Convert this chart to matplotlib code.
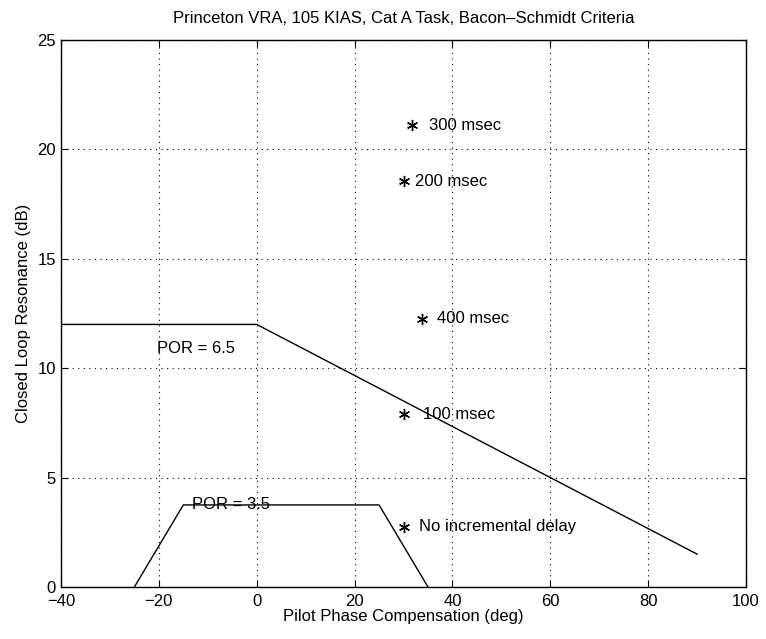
import numpy as np
import matplotlib
matplotlib.use("Agg")
import matplotlib.pyplot as plt

plt.rcParams['font.family'] = ['Liberation Sans', 'DejaVu Sans']

# =========================================
# DONNEES
# =========================================

# frontiere POR = 6.5
upper_x = [-40, 0, 90]
upper_y = [12, 12, 1.5]

# frontiere POR = 3.5
lower_x = [-25, -15, 25, 35]
lower_y = [0, 3.75, 3.75, 0]

# points mesures
pt_x = [31.7, 30.1, 33.7, 30.1, 30.1]
pt_y = [21.1, 18.55, 12.25, 7.9, 2.75]
pt_labels = ["300 msec", "200 msec", "400 msec", "100 msec", "No incremental delay"]
label_x = [35.2, 32.4, 36.9, 33.9, 33.1]

FS = 12

# =========================================
# PLOT
# =========================================

fig = plt.figure(figsize=(7.66, 6.39), dpi=100)
ax = fig.add_axes([0.0796, 0.0814, 0.8944, 0.856])

ax.plot(upper_x, upper_y, color="black", lw=1.0)
ax.plot(lower_x, lower_y, color="black", lw=1.0)

ax.plot(pt_x, pt_y, linestyle="none", marker=(6, 2, 0), markersize=8,
        markeredgewidth=1.0, color="black")

for xt, yt, lab in zip(label_x, pt_y, pt_labels):
    ax.text(xt, yt, lab, fontsize=FS, va="center", ha="left")

ax.text(-20.3, 10.9, "POR = 6.5", fontsize=FS, va="center", ha="left")
ax.text(-13.3, 3.75, "POR = 3.5", fontsize=FS, va="center", ha="left")

ax.set_xlim(-40, 100)
ax.set_ylim(0, 25)
ax.set_xticks(np.arange(-40, 101, 20))
ax.set_yticks(np.arange(0, 26, 5))

ax.grid(True, linestyle=(0, (1, 4)), color="black", lw=0.8)
ax.tick_params(direction="in", length=5, labelsize=FS, top=True, right=True)
ax.tick_params(axis="x", pad=5)
for s in ax.spines.values():
    s.set_linewidth(1.0)

ax.set_xlabel("Pilot Phase Compensation (deg)", fontsize=FS, labelpad=0)
ax.set_ylabel("Closed Loop Resonance (dB)", fontsize=FS, labelpad=5)
ax.set_title("Princeton VRA, 105 KIAS, Cat A Task, Bacon\u2013Schmidt Criteria",
             fontsize=FS, pad=12)

fig.savefig("out.png", dpi=100)
